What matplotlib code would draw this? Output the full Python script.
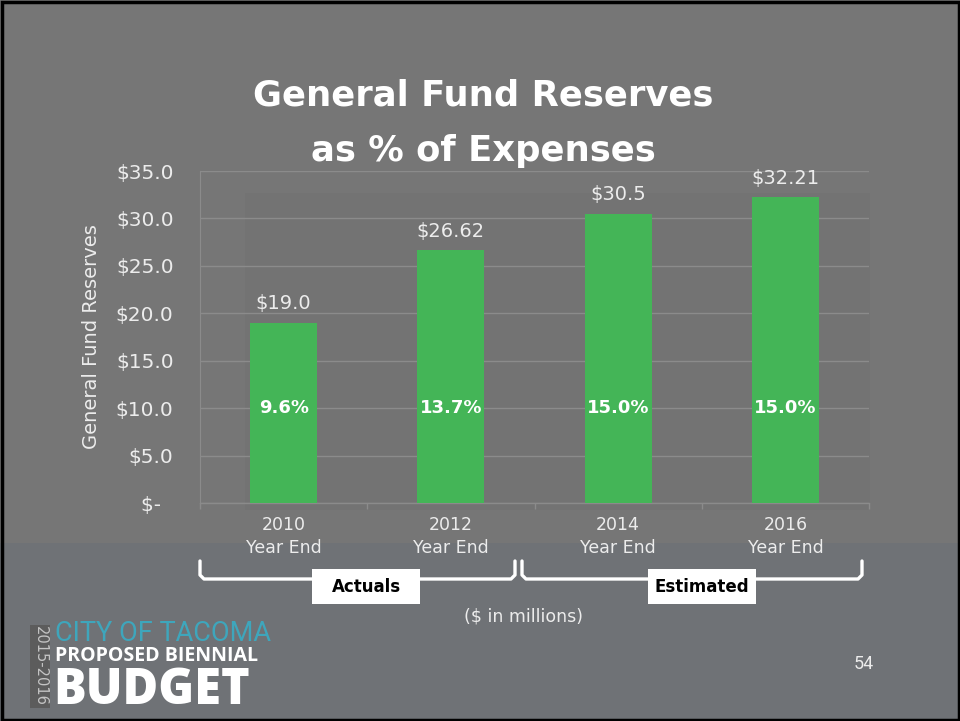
import matplotlib
matplotlib.use("Agg")
import matplotlib.pyplot as plt
from matplotlib.patches import Rectangle
from matplotlib.lines import Line2D
from matplotlib.ticker import FixedLocator, FixedFormatter

# ---- data -------------------------------------------------------------
years = ["2010", "2012", "2014", "2016"]
reserves = [19.0, 26.62, 30.5, 32.21]
value_labels = ["$19.0", "$26.62", "$30.5", "$32.21"]
pct_labels = ["9.6%", "13.7%", "15.0%", "15.0%"]
y_ticks = [0, 5, 10, 15, 20, 25, 30, 35]
y_tick_labels = ["$-\u2007", "$5.0", "$10.0", "$15.0", "$20.0", "$25.0", "$30.0", "$35.0"]
groups = ["Actuals", "Estimated"]

# ---- styling ----------------------------------------------------------
W, H = 960, 721
BG = "#767676"
BG_LOW = "#6f7276"
INNER = "#737373"
GREEN = "#44b557"
GRID = "#8b8b8b"
TXT = "#ececec"

fig = plt.figure(figsize=(W / 100, H / 100), dpi=100)
fig.patch.set_facecolor(BG)


def px(x, y):
    return x / W, 1 - y / H


def prect(x0, y0, x1, y1, **kw):
    fx0, fy1 = px(x0, y0)
    fx1, fy0 = px(x1, y1)
    r = Rectangle((fx0, fy0), fx1 - fx0, fy1 - fy0, transform=fig.transFigure, **kw)
    fig.add_artist(r)
    return r


# slide background bands
prect(0, 543, W, H, facecolor=BG_LOW, edgecolor="none", zorder=0)
prect(245, 193, 870, 510, facecolor=INNER, edgecolor="none", zorder=0)

# ---- chart ------------------------------------------------------------
l, b = px(200, 503)
r, t = px(869, 171)
ax = fig.add_axes([l, b, r - l, t - b])
ax.set_facecolor("none")
x = list(range(len(years)))
bars = ax.bar(x, reserves, width=0.40, color=GREEN, zorder=3)
ax.set_xlim(-0.5, len(years) - 0.5)
ax.set_ylim(0, 35)

ax.yaxis.set_major_locator(FixedLocator(y_ticks))
ax.yaxis.set_major_formatter(FixedFormatter(y_tick_labels))
ax.tick_params(axis="y", length=0, pad=19, labelsize=14.5, labelcolor=TXT)
ax.grid(axis="y", color=GRID, linewidth=1.0, zorder=1)

ax.set_xticks(x)
ax.set_xticklabels([f"{yr}\nYear End" for yr in years], linespacing=1.4)
ax.tick_params(axis="x", which="major", length=0, pad=9, labelsize=12.5, labelcolor=TXT)
ax.set_xticks([i - 0.5 for i in range(len(years) + 1)], minor=True)
ax.tick_params(axis="x", which="minor", length=4, width=1, color=GRID)

for side in ["top", "right"]:
    ax.spines[side].set_visible(False)
ax.spines["left"].set_color(GRID)
ax.spines["bottom"].set_color(GRID)
ax.spines["bottom"].set_linewidth(1.0)

ax.set_ylabel("General Fund Reserves", fontsize=14, color=TXT)
ax.yaxis.set_label_coords(-0.148, 0.5)

for xi, v, lab, pct in zip(x, reserves, value_labels, pct_labels):
    ax.annotate(lab, (xi, v), xytext=(0, 7), textcoords="offset points",
                ha="center", va="bottom", fontsize=14, color=TXT, zorder=5)
    ax.text(xi, 10.0, pct, ha="center", va="center", fontsize=13,
            fontweight="bold", color="white", zorder=5)

# ---- title ------------------------------------------------------------
fig.text(*px(483, 95), "General Fund Reserves", ha="center", va="center",
         fontsize=25.5, fontweight="bold", color="white")
fig.text(*px(483, 151), "as % of Expenses", ha="center", va="center",
         fontsize=25.5, fontweight="bold", color="white")

# ---- group brackets ---------------------------------------------------
def bracket(x0, x1):
    xs = [x0, x0, x0 + 4, x1 - 4, x1, x1]
    ys = [561, 575, 579, 579, 575, 561]
    fx = [px(a, 0)[0] for a in xs]
    fy = [px(0, a)[1] for a in ys]
    fig.add_artist(Line2D(fx, fy, transform=fig.transFigure, color="white",
                          linewidth=2.4, solid_capstyle="round",
                          solid_joinstyle="round", zorder=4))


bracket(200, 515)
bracket(522, 862)
for (cx, name) in zip([366, 702], groups):
    prect(cx - 54, 569, cx + 54, 604, facecolor="white", edgecolor="none", zorder=5)
    fig.text(*px(cx, 587), name, ha="center", va="center", fontsize=12,
             fontweight="bold", color="black", zorder=6)

fig.text(*px(523, 617), "($ in millions)", ha="center", va="center",
         fontsize=12.5, color=TXT)

# ---- page number ------------------------------------------------------
fig.text(*px(864, 664), "54", ha="center", va="center", fontsize=13,
         family="Roboto", fontstretch="condensed", color=TXT)

# ---- budget logo ------------------------------------------------------
prect(30, 625, 50, 708, facecolor="#5c5c5c", edgecolor="none", zorder=2)
fig.text(*px(40, 666), "2015-2016", rotation=-90, ha="center", va="center",
         fontsize=10.5, color="#c4c4c4", zorder=3)
fig.text(*px(55, 641), "CITY OF TACOMA", ha="left", va="baseline",
         fontsize=19.5, family="Roboto", color="#3ea6bc")
fig.text(*px(55, 661), "PROPOSED BIENNIAL", ha="left", va="baseline",
         fontsize=14, fontweight="bold", family="Open Sans", color="white")
fig.text(*px(53, 704), "BUDGET", ha="left", va="baseline",
         fontsize=35, fontweight="heavy", family="Open Sans", color="white")

# ---- slide border -----------------------------------------------------
prect(1.5, 1.5, W - 1.5, H - 1.5, facecolor="none", edgecolor="black",
      linewidth=2.5, zorder=10)

fig.savefig("out.png", dpi=100, facecolor=fig.get_facecolor())
